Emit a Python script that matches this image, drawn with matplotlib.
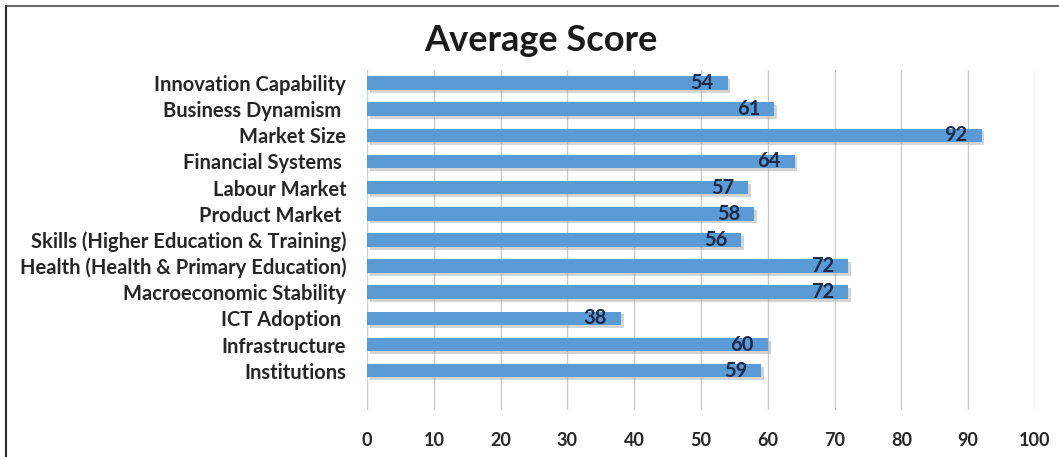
import matplotlib.pyplot as plt
import matplotlib.patheffects as pe
from matplotlib.lines import Line2D

plt.rcParams['font.family'] = ['Lato', 'DejaVu Sans']

categories = [
    'Institutions',
    'Infrastructure',
    'ICT Adoption ',
    'Macroeconomic Stability',
    'Health (Health & Primary Education)',
    'Skills (Higher Education & Training)',
    'Product Market ',
    'Labour Market',
    'Financial Systems ',
    'Market Size',
    'Business Dynamism ',
    'Innovation Capability',
]
scores = [59, 60, 38, 72, 72, 56, 58, 57, 64, 92, 61, 54]
xticks = [0, 10, 20, 30, 40, 50, 60, 70, 80, 90, 100]

fig = plt.figure(figsize=(10.59, 4.57), dpi=100)
ax = fig.add_axes([0.3466, 0.103, 0.6307, 0.744])

bars = ax.barh(range(len(categories)), scores, height=0.52, color='#5b9bd5', zorder=3)
for b in bars:
    b.set_path_effects([pe.SimplePatchShadow(offset=(2, -2), shadow_rgbFace='#a0a0a0', alpha=0.45), pe.Normal()])

for i, v in enumerate(scores):
    ax.annotate(str(v), xy=(v, i), xytext=(-10, 0), textcoords='offset points',
                ha='right', va='center', fontsize=14.5, fontweight='bold',
                color='#1c2b48', zorder=4)

ax.set_xlim(0, 100)
ax.set_ylim(-1.5, 11.5)
ax.set_xticks(xticks)
ax.set_yticks(range(len(categories)))
ax.set_yticklabels(categories, fontsize=14.5, fontweight='bold', color='#262626')
ax.tick_params(axis='y', length=0, pad=15)
ax.tick_params(axis='x', length=0, pad=16, labelsize=13, labelcolor='#262626')
for lab in ax.get_xticklabels():
    lab.set_fontweight('bold')
ax.grid(axis='x', color='#cccccc', linewidth=1, zorder=0)
for s in ax.spines.values():
    s.set_visible(False)

fig.text(0.511, 0.912, 'Average Score', ha='center', va='center',
         fontsize=26, fontweight='bold', color='#1a1a1a')

# frame: top and left edges only
fig.add_artist(Line2D([0.006, 1.0], [0.986, 0.986], transform=fig.transFigure,
                      color='#6a6a6a', linewidth=1.5))
fig.add_artist(Line2D([0.006, 0.006], [0.0, 0.986], transform=fig.transFigure,
                      color='#2a2a2a', linewidth=1.5))

fig.savefig('out.png', dpi=100)
